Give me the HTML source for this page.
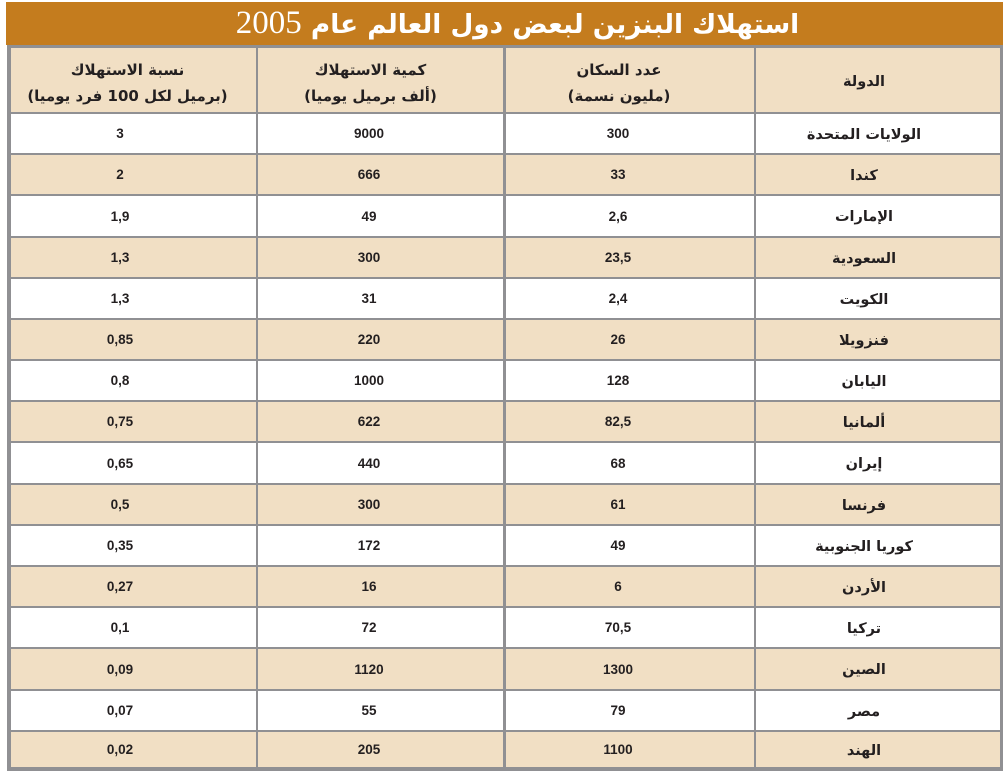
<!DOCTYPE html>
<html>
<head>
<meta charset="utf-8">
<style>
html,body{margin:0;padding:0;background:#fff;}
body{width:1004px;height:772px;position:relative;overflow:hidden;}
.band{position:absolute;left:6px;top:2px;width:997px;height:43px;background:#c47c1e;}
.title{position:absolute;left:6px;top:2px;width:997px;height:43px;line-height:43px;text-align:center;color:#fff;white-space:nowrap;direction:rtl;padding-left:26px;box-sizing:border-box;}
.title .ar{font-family:"DejaVu Sans",sans-serif;font-weight:bold;font-size:26.3px;}
.title .num{font-family:"Liberation Serif",serif;font-size:33px;font-weight:normal;}
.frame{position:absolute;left:7px;top:45px;width:996px;height:726px;background:#909093;}
.c{position:absolute;box-sizing:border-box;text-align:center;color:#231f20;white-space:nowrap;}
.b{background:#f1dfc4;}
.w{background:#fff;}
.n{font-family:"Liberation Sans",sans-serif;font-weight:bold;font-size:13.5px;}
.a{font-family:"DejaVu Sans",sans-serif;font-weight:bold;font-size:14.5px;direction:rtl;}
.h{font-family:"DejaVu Sans",sans-serif;font-weight:bold;font-size:15px;direction:rtl;line-height:26px;padding-top:9px;}
</style>
</head>
<body>
<div class="band"></div>
<div class="title"><span class="ar">استهلاك البنزين لبعض دول العالم عام </span><span class="num">2005</span></div>
<div class="frame"></div>

<!-- header -->
<div class="c b h" style="left:11px;top:48px;width:245px;height:64px;padding-right:12px;">نسبة الاستهلاك<br>(برميل لكل 100 فرد يوميا)</div>
<div class="c b h" style="left:258px;top:48px;width:245px;height:64px;padding-right:20px;">كمية الاستهلاك<br>(ألف برميل يوميا)</div>
<div class="c b h" style="left:506px;top:48px;width:248px;height:64px;padding-right:22px;">عدد السكان<br>(مليون نسمة)</div>
<div class="c b a" style="left:756px;top:48px;width:244px;height:64px;line-height:69px;padding-right:28px;">الدولة</div>

<div id="rows"></div>
<script>
(function(){
var data=[
["3","9000","300","الولايات المتحدة"],
["2","666","33","كندا"],
["1,9","49","2,6","الإمارات"],
["1,3","300","23,5","السعودية"],
["1,3","31","2,4","الكويت"],
["0,85","220","26","فنزويلا"],
["0,8","1000","128","اليابان"],
["0,75","622","82,5","ألمانيا"],
["0,65","440","68","إيران"],
["0,5","300","61","فرنسا"],
["0,35","172","49","كوريا الجنوبية"],
["0,27","16","6","الأردن"],
["0,1","72","70,5","تركيا"],
["0,09","1120","1300","الصين"],
["0,07","55","79","مصر"],
["0,02","205","1100","الهند"]
];
var cols=[[11,245,27],[258,245,23],[506,248,24],[756,244,28]];
var out="";
for(var i=0;i<16;i++){
  var yT=Math.round(112+41.18*i)+2;
  var yB=(i==15)?767:Math.round(112+41.18*(i+1));
  var hh=yB-yT;
  var cls=(i%2==0)?"w":"b";
  for(var j=0;j<4;j++){
    var c=cols[j];
    var t=(j==3)?"a":"n";
    var lh=(j==3)?(hh+3):(hh+1);
    out+='<div class="c '+cls+' '+t+'" style="left:'+c[0]+'px;top:'+yT+'px;width:'+c[1]+'px;height:'+hh+'px;line-height:'+lh+'px;padding-right:'+c[2]+'px;">'+data[i][j]+'</div>';
  }
}
document.getElementById("rows").innerHTML=out;
})();
</script>
</body>
</html>
